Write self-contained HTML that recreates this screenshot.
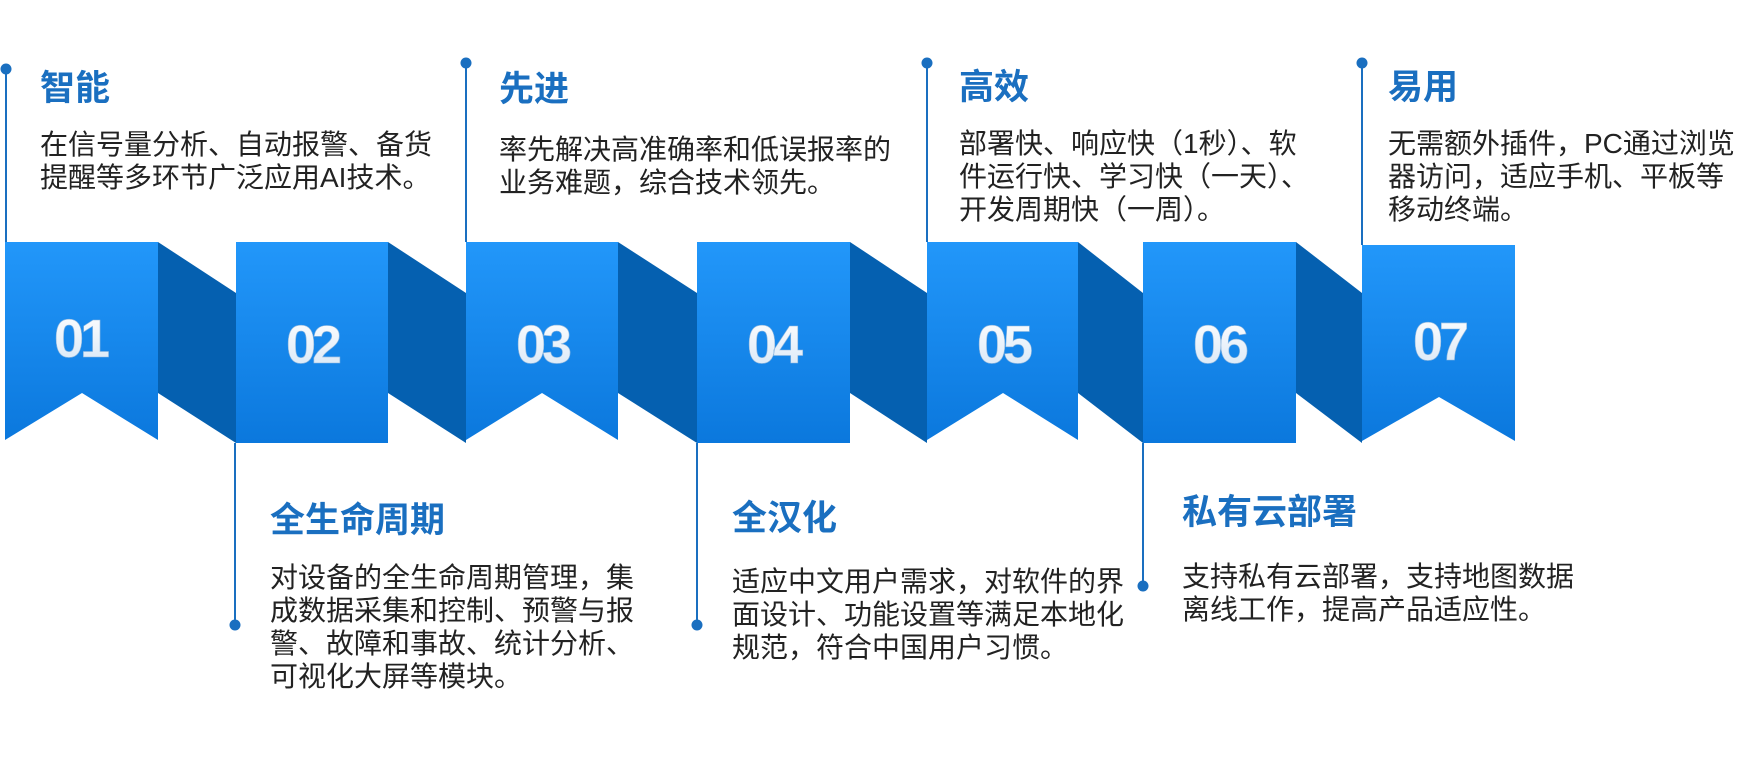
<!DOCTYPE html>
<html><head><meta charset="utf-8">
<style>
body{margin:0;background:#fff;}
#c{position:relative;width:1740px;height:778px;overflow:hidden;font-family:"Liberation Sans","Noto Sans CJK SC",sans-serif;}
.t{position:absolute;font-size:35px;font-weight:bold;color:#1a6fc0;line-height:40px;white-space:nowrap;}
.b{position:absolute;font-size:28px;color:#222;line-height:33px;white-space:nowrap;}
svg{position:absolute;left:0;top:0;}
</style></head><body><div id="c">
<svg width="1740" height="778">
<defs>
<linearGradient id="g" x1="0" y1="0" x2="0" y2="1"><stop offset="0" stop-color="#2297fa"/><stop offset="1" stop-color="#0b78dd"/></linearGradient>
<linearGradient id="n" x1="0" y1="0" x2="0" y2="1"><stop offset="0" stop-color="#ffffff"/><stop offset="1" stop-color="#d6e6f6"/></linearGradient>
</defs>
<g fill="#0560b0">
<polygon points="158,242 236,293 236,443 158,393"/>
<polygon points="388,242 466,293 466,443 388,393"/>
<polygon points="618,242 697,293 697,443 618,393"/>
<polygon points="850,242 927,293 927,443 850,393"/>
<polygon points="1078,242 1143,293 1143,443 1078,393"/>
<polygon points="1296,242 1362,293 1362,443 1296,393"/>
</g>
<g fill="url(#g)">
<polygon points="5,242 158,242 158,440 82,393 5,440"/>
<rect x="236" y="242" width="152" height="201"/>
<polygon points="466,242 618,242 618,440 542,393 466,440"/>
<rect x="697" y="242" width="153" height="201"/>
<polygon points="927,242 1078,242 1078,440 1003,393 927,440"/>
<rect x="1143" y="242" width="153" height="201"/>
<polygon points="1362,245 1515,245 1515,441 1439,397 1362,441"/>
</g>
<g fill="url(#n)" font-family="Liberation Sans,sans-serif" font-size="54" font-weight="bold" letter-spacing="-4" text-anchor="middle" stroke="#8fb7de" stroke-width="0.6">
<text x="80" y="357">01</text>
<text x="312" y="363">02</text>
<text x="542" y="363">03</text>
<text x="773" y="363">04</text>
<text x="1003" y="363">05</text>
<text x="1219" y="363">06</text>
<text x="1439" y="360">07</text>
</g>
<g stroke="#1a6fc0" stroke-width="2">
<line x1="6" y1="69" x2="6" y2="242"/>
<line x1="466" y1="63" x2="466" y2="242"/>
<line x1="927" y1="63" x2="927" y2="242"/>
<line x1="1362" y1="63" x2="1362" y2="245"/>
<line x1="235" y1="443" x2="235" y2="625"/>
<line x1="697" y1="443" x2="697" y2="625"/>
<line x1="1143" y1="443" x2="1143" y2="586"/>
</g>
<g fill="#1a6fc0">
<circle cx="6" cy="69" r="5.5"/><circle cx="466" cy="63" r="5.5"/><circle cx="927" cy="63" r="5.5"/><circle cx="1362" cy="63" r="5.5"/>
<circle cx="235" cy="625" r="5.5"/><circle cx="697" cy="625" r="5.5"/><circle cx="1143" cy="586" r="5.5"/>
</g>
</svg>
<div class="t" style="left:40px;top:69px">智能</div>
<div class="b" style="left:40px;top:128px">在信号量分析、自动报警、备货<br>提醒等多环节广泛应用AI技术。</div>
<div class="t" style="left:499px;top:70px">先进</div>
<div class="b" style="left:499px;top:133px">率先解决高准确率和低误报率的<br>业务难题，综合技术领先。</div>
<div class="t" style="left:959px;top:68px">高效</div>
<div class="b" style="left:959px;top:127px">部署快、响应快（1秒）、软<br>件运行快、学习快（一天）、<br>开发周期快（一周）。</div>
<div class="t" style="left:1388px;top:68px">易用</div>
<div class="b" style="left:1388px;top:127px">无需额外插件，PC通过浏览<br>器访问，适应手机、平板等<br>移动终端。</div>
<div class="t" style="left:270px;top:501px">全生命周期</div>
<div class="b" style="left:270px;top:561px">对设备的全生命周期管理，集<br>成数据采集和控制、预警与报<br>警、故障和事故、统计分析、<br>可视化大屏等模块。</div>
<div class="t" style="left:732px;top:499px">全汉化</div>
<div class="b" style="left:732px;top:565px">适应中文用户需求，对软件的界<br>面设计、功能设置等满足本地化<br>规范，符合中国用户习惯。</div>
<div class="t" style="left:1182px;top:493px">私有云部署</div>
<div class="b" style="left:1182px;top:560px">支持私有云部署，支持地图数据<br>离线工作，提高产品适应性。</div>
</div></body></html>
